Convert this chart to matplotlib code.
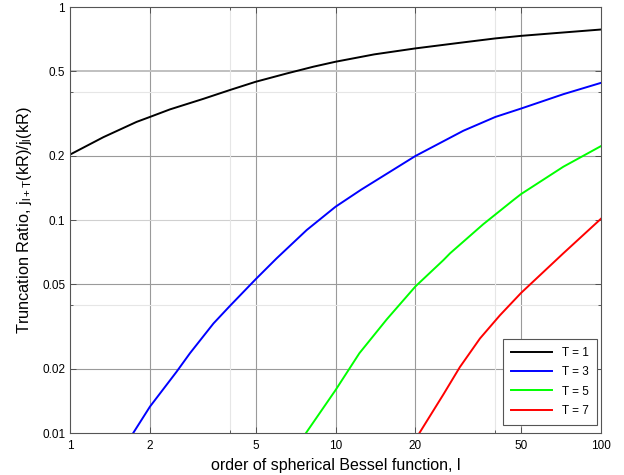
import matplotlib
matplotlib.use("Agg")
import matplotlib.pyplot as plt
from matplotlib.ticker import FixedLocator, NullFormatter

plt.rcParams['font.family'] = ['Liberation Sans', 'DejaVu Sans']
plt.rcParams['mathtext.fontset'] = 'custom'
plt.rcParams['mathtext.rm'] = 'Liberation Sans'
plt.rcParams['mathtext.it'] = 'Liberation Sans'

# data
l_T1 = [1, 1.335, 1.78, 2, 2.38, 3.18, 4, 5, 6.55, 8.25, 10, 14, 20, 29.4, 40, 50, 70, 100]
r_T1 = [0.203, 0.245, 0.289, 0.305, 0.331, 0.371, 0.408, 0.446, 0.488, 0.525, 0.554,
        0.600, 0.640, 0.680, 0.713, 0.733, 0.758, 0.785]

l_T3 = [1.73, 2, 2.52, 2.83, 3.47, 4, 5, 6.0, 7.79, 10, 12.5, 20, 30.3, 40, 50, 72.1, 100]
r_T3 = [0.010, 0.0133, 0.0194, 0.0237, 0.0327, 0.0395, 0.0527, 0.0661, 0.0898, 0.1155,
        0.139, 0.200, 0.2627, 0.305, 0.334, 0.390, 0.441]

l_T5 = [7.74, 10, 12.3, 15.6, 20, 25.5, 27.0, 36.0, 46.7, 50, 72.1, 100]
r_T5 = [0.010, 0.0159, 0.0237, 0.0342, 0.0488, 0.0649, 0.0698, 0.0956, 0.124, 0.1325,
        0.178, 0.2226]

l_T7 = [20.7, 25.5, 29.4, 35.0, 41.6, 50, 72.1, 100]
r_T7 = [0.010, 0.0152, 0.0204, 0.0278, 0.0357, 0.0455, 0.0698, 0.1015]

series = [("T = 1", l_T1, r_T1, "black"),
          ("T = 3", l_T3, r_T3, "#0000ff"),
          ("T = 5", l_T5, r_T5, "#00ff00"),
          ("T = 7", l_T7, r_T7, "#ff0000")]

x_ticks = [1, 2, 5, 10, 20, 50, 100]
x_ticklabels = ["1", "2", "5", "10", "20", "50", "100"]
y_ticks = [0.01, 0.02, 0.05, 0.1, 0.2, 0.5, 1]
y_ticklabels = ["0.01", "0.02", "0.05", "0.1", "0.2", "0.5", "1"]
x_faint = [4, 40]
y_faint = [0.04, 0.4]

fig = plt.figure(figsize=(6.24, 4.75), dpi=100)
ax = fig.add_axes([0.1122, 0.0884, 0.851, 0.8966])
ax.set_xscale('log')
ax.set_yscale('log')
ax.set_xlim(1, 100)
ax.set_ylim(0.01, 1)

# grid lines
for xv in x_ticks[1:-1]:
    ax.axvline(xv, color='#9a9a9a', lw=0.8, zorder=0)
for yv in y_ticks[1:-1]:
    if yv == 0.5:
        ax.axhline(yv, color='#c0c0c0', lw=1.4, zorder=0)
    elif yv == 0.1:
        ax.axhline(yv, color='#d0d0d0', lw=0.8, zorder=0)
    else:
        ax.axhline(yv, color='#9a9a9a', lw=0.8, zorder=0)
for xv in x_faint:
    ax.axvline(xv, color='#e6e6e6', lw=0.8, zorder=0)
for yv in y_faint:
    ax.axhline(yv, color='#e6e6e6', lw=0.8, zorder=0)

for label, lx, ly, col in series:
    ax.plot(lx, ly, color=col, lw=1.4, label=label)

ax.xaxis.set_major_locator(FixedLocator(x_ticks))
ax.xaxis.set_minor_locator(FixedLocator(x_faint))
ax.yaxis.set_major_locator(FixedLocator(y_ticks))
ax.yaxis.set_minor_locator(FixedLocator(y_faint))
ax.xaxis.set_minor_formatter(NullFormatter())
ax.yaxis.set_minor_formatter(NullFormatter())
ax.set_xticklabels(x_ticklabels)
ax.set_yticklabels(y_ticklabels)
ax.tick_params(which='both', direction='in', top=True, right=True,
               labelsize=8.5, color='#444444', width=0.6)
ax.tick_params(which='major', length=4)
ax.tick_params(which='minor', length=2.5)
ax.tick_params(axis='x', pad=5)
for sp in ax.spines.values():
    sp.set_color('#555555')
    sp.set_linewidth(0.8)

ax.set_xlabel('order of spherical Bessel function, l', fontsize=11.5, labelpad=4)
ax.set_ylabel(r'Truncation Ratio, j$_{\mathrm{l+T}}$(kR)/j$_{\mathrm{l}}$(kR)',
              fontsize=11.8, labelpad=6)

leg = ax.legend(loc='lower right', fontsize=8.5, fancybox=False, framealpha=1,
                edgecolor='#555555', handlelength=3.5, borderpad=0.7,
                labelspacing=0.6, borderaxespad=0,
                bbox_to_anchor=(0.9925, 0.019))
leg.get_frame().set_linewidth(0.8)

fig.savefig('out.png', dpi=100)
